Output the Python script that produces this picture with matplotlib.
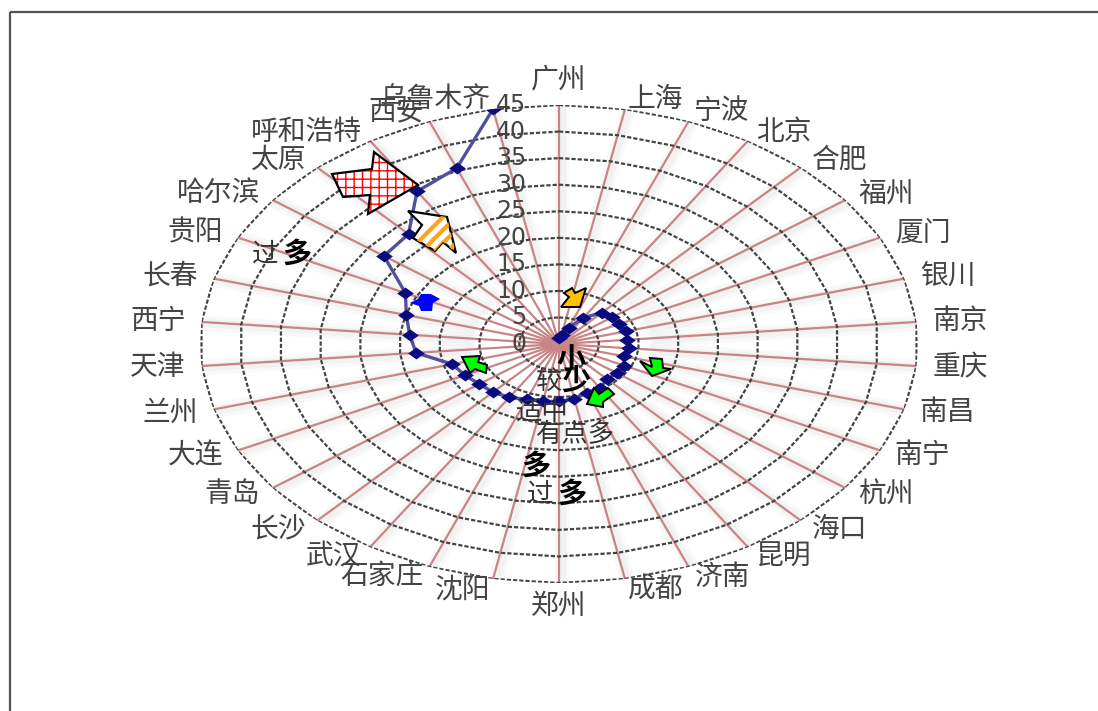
import numpy as np
import matplotlib
matplotlib.use('Agg')
import matplotlib.pyplot as plt
import matplotlib.patheffects as pe
from matplotlib.patches import Polygon, Rectangle

plt.rcParams['font.family'] = ['Noto Sans CJK SC', 'DejaVu Sans']

cities = ['广州', '上海', '宁波', '北京', '合肥', '福州', '厦门', '银川', '南京', '重庆',
          '南昌', '南宁', '杭州', '海口', '昆明', '济南', '成都', '郑州', '沈阳', '石家庄',
          '武汉', '长沙', '青岛', '大连', '兰州', '天津', '西宁', '长春', '贵阳', '哈尔滨',
          '太原', '呼和浩特', '西安', '乌鲁木齐']
values = [1.2, 1.8, 3.3, 5.8, 8.0, 8.3, 8.4, 8.7, 8.6, 8.8,
          8.5, 9.1, 9.1, 9.0, 9.7, 9.8, 10.5, 10.8, 11.0, 11.2,
          11.8, 12.3, 12.5, 13.2, 13.9, 18.0, 18.8, 19.9, 21.5, 27.5,
          28.0, 33.8, 35.5, 45.0]
rings = [5, 10, 15, 20, 25, 30, 35, 40, 45]

# callout shapes and handwritten notes, in picture pixels
red_arrow = [(332, 174), (372, 169), (374, 152), (418, 185), (368, 214), (370, 195), (343, 197)]
orange_arrow = [(408, 211), (447, 217), (456, 253), (443, 242), (435, 251), (413, 238), (422, 225)]
yellow_arrow = [(586, 288), (580, 307), (561, 307), (569, 297), (564, 293), (572, 288), (575, 293)]
blue_blob = [(410, 303), (418, 299), (421, 294), (431, 294), (440, 299), (433, 303), (432, 311), (421, 311), (419, 306)]
green_arrows = [
    [(462, 357), (480, 356), (478, 362), (487, 365), (486, 373), (475, 369), (470, 373)],
    [(640, 361), (652, 367), (650, 358), (662, 359), (663, 368), (671, 369), (652, 376)],
    [(587, 404), (594, 388), (599, 394), (608, 388), (614, 394), (603, 402), (603, 407)],
]
notes = [('小', 571, 359, True), ('较', 549, 382, False), ('少', 576, 381, True),
         ('适中', 541, 413, False), ('有点多', 576, 434, False), ('多', 536, 466, True),
         ('过', 540, 494, False), ('多', 572, 494, True),
         ('过', 265, 254, False), ('多', 297, 254, True)]

W, H = 1098, 711
cx, cy, rx, ry = 559, 344, 359, 239

fig = plt.figure(figsize=(W / 100, H / 100), dpi=100)
fig.patch.set_facecolor('white')

# Radar chart, stretched sideways like the original
ax = fig.add_axes([(cx - rx) / W, (H - cy - ry) / H, 2 * rx / W, 2 * ry / H], projection='polar')
ax.set_aspect('auto')
ax.set_theta_zero_location('N')
ax.set_theta_direction(-1)
ax.set_rlim(0, 45)
ax.set_axis_off()

angles = np.arange(len(cities)) * 2 * np.pi / len(cities)
closed = np.append(angles, angles[0])

# Soft grey band along each spoke, kept away from the hub
soft = [pe.SimpleLineShadow(offset=(2, -1), shadow_color='#a0a0a0', alpha=0.06, linewidth=11),
        pe.SimpleLineShadow(offset=(2, -1), shadow_color='#a0a0a0', alpha=0.08, linewidth=6)]
for a in angles:
    ax.plot([a, a], [12, rings[-1]], color='none', zorder=1, path_effects=soft)
    ax.plot([a, a], [0, rings[-1]], color='#c98585', lw=1.6, zorder=2)
for r in rings:
    ax.plot(closed, np.full(len(closed), r), color='#444444', lw=1.6, ls=(0, (1.9, 0.9)), zorder=3)

ax.plot(angles, values, color='#50509c', lw=2.4, zorder=4)
diamond = [(-1.4, 0), (0, 1), (1.4, 0), (0, -1), (-1.4, 0)]
ax.plot(angles, values, ls='none', marker=diamond, ms=12, mew=0, color='#0b0b80', zorder=5)

# City labels sit just outside the outer ring
for a, name in zip(angles, cities):
    s = np.sin(a)
    if abs(s) < 1e-6:
        top = np.cos(a) > 0
        ax.text(a, 47 if top else 46.5, name, ha='center', va='bottom' if top else 'top',
                fontsize=20, color='#444444', zorder=6)
    else:
        ax.text(a, 47, name, ha='left' if s > 0 else 'right', va='center',
                fontsize=20, color='#444444', zorder=6)

# Scale numbers left of the top spoke
for r in [0] + rings:
    ax.annotate(str(r), (0, r), xytext=(-23.5, 0), textcoords='offset points', ha='right', va='center',
                fontsize=17, color='#444444', family='DejaVu Sans', zorder=6, annotation_clip=False)

# Overlay in picture pixels for the frame and the drawn-on shapes
over = fig.add_axes([0, 0, 1, 1], facecolor='none')
over.set_xlim(0, W)
over.set_ylim(H, 0)
over.axis('off')

over.add_patch(Rectangle((10, 12), W + 10, H + 10, fill=False, edgecolor='#555555', lw=1.6))

plt.rcParams['hatch.linewidth'] = 1.0
over.add_patch(Polygon(red_arrow, facecolor='white', edgecolor='#ff0000', hatch='++', lw=0))
over.add_patch(Polygon(red_arrow, fill=False, edgecolor='black', lw=1.6))

orange_bg = Polygon(orange_arrow, facecolor='white', edgecolor='none')
over.add_patch(orange_bg)
for start in np.arange(395, 480, 13):
    stripe, = over.plot([start, start + 60], [265, 205], color='#ffa31a', lw=3)
    stripe.set_clip_path(orange_bg)
over.add_patch(Polygon(orange_arrow, fill=False, edgecolor='black', lw=1.6))

over.add_patch(Polygon(yellow_arrow, facecolor='#ffc000', edgecolor='black', lw=1.4))
over.add_patch(Polygon(blue_blob, facecolor='#0000ff', edgecolor='none'))
for arrow in green_arrows:
    over.add_patch(Polygon(arrow, facecolor='#00ff00', edgecolor='black', lw=1.4))

for text, x, y, bold in notes:
    over.text(x, y, text, ha='center', va='center', fontsize=21 if bold else 19,
              color='black' if bold else '#333333', fontweight='bold' if bold else 'light')

fig.savefig('out.png', dpi=100)
